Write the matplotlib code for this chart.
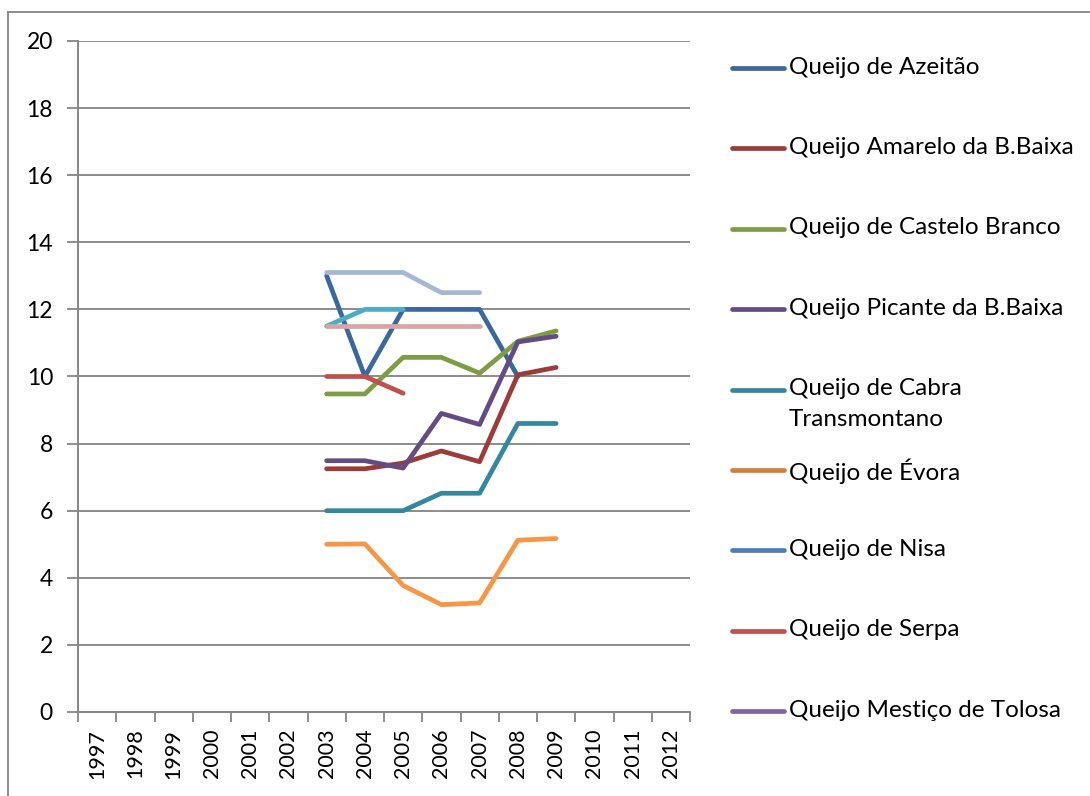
import numpy as np
import matplotlib
matplotlib.use("Agg")
import matplotlib.pyplot as plt
from matplotlib.lines import Line2D

plt.rcParams['font.family'] = ['Lato', 'DejaVu Sans']

categories = [str(y) for y in range(1997, 2013)]
data_years = ['2003', '2004', '2005', '2006', '2007', '2008', '2009']
nan = np.nan

azeitao = [13.0, 10.0, 12.0, 12.0, 12.0, 10.0, nan]
amarelo = [7.25, 7.25, 7.42, 7.78, 7.46, 10.05, 10.27]
castelo = [9.48, 9.48, 10.57, 10.57, 10.1, 11.05, 11.36]
picante = [7.49, 7.49, 7.27, 8.9, 8.57, 11.03, 11.2]
cabra = [6.0, 6.0, 6.0, 6.52, 6.52, 8.6, 8.6]
evora = [5.0, 5.01, 3.77, 3.2, 3.25, 5.12, 5.17]
nisa = [nan, nan, nan, nan, nan, nan, nan]
serpa = [10.0, 10.0, 9.5, nan, nan, nan, nan]
tolosa = [nan, nan, nan, nan, nan, nan, nan]
extra_cyan = [11.5, 12.0, 12.0, nan, nan, nan, nan]
extra_pink = [11.5, 11.5, 11.5, 11.5, 11.5, nan, nan]
extra_steel = [13.1, 13.1, 13.1, 12.5, 12.5, nan, nan]

names = ['Queijo de Azeitão', 'Queijo Amarelo da B.Baixa', 'Queijo de Castelo Branco',
         'Queijo Picante da B.Baixa', 'Queijo de Cabra\nTransmontano', 'Queijo de Évora',
         'Queijo de Nisa', 'Queijo de Serpa', 'Queijo Mestiço de Tolosa', '', '', '']
series = [azeitao, amarelo, castelo, picante, cabra, evora, nisa, serpa, tolosa,
          extra_cyan, extra_pink, extra_steel]
line_colors = ['#3A679C', '#9B3C39', '#7E9C44', '#634B84', '#33879E', '#F79646',
               '#4A7EBB', '#C0504D', '#7F63A2', '#4BACC6', '#D9A5A4', '#A5B7D5']
legend_colors = ['#3A679C', '#9B3C39', '#7E9C44', '#634B84', '#33879E', '#D67D36',
                 '#4A7EBB', '#C0504D', '#7F63A2']

W, H = 1090, 796
fig = plt.figure(figsize=(W / 100, H / 100), dpi=100)
ax = fig.add_axes([78 / W, 1 - 712 / H, (690 - 78) / W, (712 - 41) / H])

xs = [categories.index(y) for y in data_years]
for vals, col in zip(series, line_colors):
    ax.plot(xs, vals, color=col, lw=3.4, solid_capstyle='round', solid_joinstyle='round')

ax.set_xlim(-0.5, len(categories) - 0.5)
ax.set_ylim(0, 20)
ax.set_yticks(np.arange(0, 21, 2))
ax.set_xticks(range(len(categories)))
ax.set_xticklabels(categories, rotation=90, fontsize=15.5)
ax.set_xticks(np.arange(-0.5, len(categories), 1), minor=True)
ax.tick_params(axis='x', which='major', length=0, pad=12)
ax.tick_params(axis='x', which='minor', length=7, color='#868686', width=1.3)
ax.tick_params(axis='y', length=8, color='#868686', width=1.3, labelsize=16.5, pad=10)
ax.grid(axis='y', color='#8C8C8C', lw=1.4)
ax.set_axisbelow(True)
for s in ['top', 'right']:
    ax.spines[s].set_visible(False)
for s in ['left', 'bottom']:
    ax.spines[s].set_color('#868686')
    ax.spines[s].set_linewidth(1.4)

# legend (Excel-style, fixed spacing)
y0, step = 68, 80.4
for i, (nm, col) in enumerate(zip(names[:9], legend_colors)):
    yy = 1 - (y0 + i * step) / H
    fig.add_artist(Line2D([732 / W, 784 / W], [yy, yy], color=col, lw=3.4,
                          solid_capstyle='round', transform=fig.transFigure))
    fig.text(789 / W, yy + 11.5 / H, nm, fontsize=17.5, va='top', ha='left',
             linespacing=1.6, color='black')

# chart border
fig.add_artist(Line2D([8 / W, 8 / W], [0, 1 - 12 / H], color='#8C8C8C', lw=1.4,
                      transform=fig.transFigure))
fig.add_artist(Line2D([8 / W, 1], [1 - 12 / H, 1 - 12 / H], color='#8C8C8C', lw=1.4,
                      transform=fig.transFigure))

fig.savefig('out.png', dpi=100)
